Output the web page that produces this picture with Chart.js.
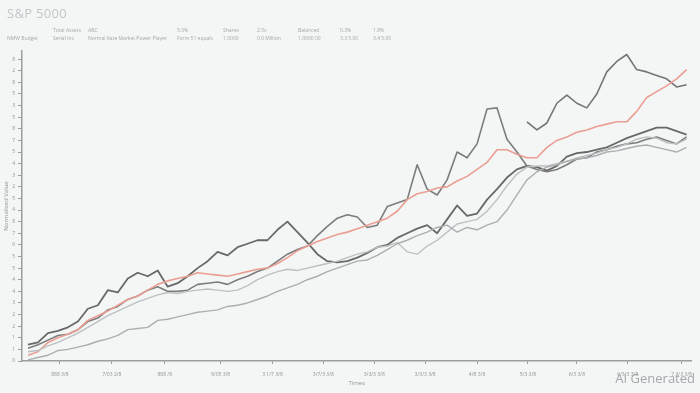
<!DOCTYPE html>
<html>
<head>
<meta charset="utf-8">
<script src="https://cdn.jsdelivr.net/npm/chart.js@4.4.1/dist/chart.umd.min.js"></script>
<style>
  html, body { margin: 0; padding: 0; background: #f4f6f6; }
  #wrap { position: relative; width: 700px; height: 393px; overflow: hidden; font-family: "Open Sans", "DejaVu Sans", sans-serif; }
  #soft { position: absolute; left: 0; top: 0; width: 700px; height: 393px; filter: blur(0.6px); }
  #title { position: absolute; left: 7px; top: 4px; font-size: 13px; color: #c2c6c8; letter-spacing: 0.3px; }
  .hd { position: absolute; font-size: 5px; color: #a3a7a9; white-space: nowrap; }
  #wm { position: absolute; right: 5px; bottom: 6px; font-size: 13px; color: #a3a8ab; font-family: "Open Sans", sans-serif; }
</style>
</head>
<body>
<div id="wrap">
  <div id="soft">
    <canvas id="chart"></canvas>
    <div id="title">S&amp;P 5000</div>
    <div id="header"></div>
  </div>
  <div id="wm">AI Generated</div>
</div>
<script>
// --- Daten ---
const xTickPos = [3.2, 8.4, 13.7, 19.3, 24.5, 29.6, 34.7, 39.8, 45.0, 50.1, 55.0, 60.1, 65.5];
const xTickLabels = ["888 3/8", "7/03 2/8", "888 /8", "9/05 3/8", "3 1/7 3/8", "3/7/3 3/8", "3/3/3 3/8",
                     "3/3/3 3/8", "4/8 3/8", "5/3 3/8", "6/3 3/8", "6/3/3 3/8", "7 3/3 3/8"];
const yTickLabels = ["0", "1", "1", "2", "2", "3", "4", "4", "5", "5", "6", "7", "8", "4",
                     "5", "2", "3", "4", "5", "7", "8", "5", "3", "5", "8", "2", "8"];

const sp500 = [1.4, 1.6, 2.4, 2.6, 2.9, 3.4, 4.5, 4.8, 6.1, 5.9,
               7.1, 7.6, 7.3, 7.8, 6.4, 6.7, 7.3, 8.0, 8.6, 9.4,
               9.1, 9.8, 10.1, 10.4, 10.4, 11.3, 12.0, 11.1, 10.2, 9.2,
               8.6, 8.5, 8.6, 8.9, 9.3, 9.8, 10.0, 10.6, 11.0, 11.4,
               11.7, 11.0, 12.2, 13.4, 12.5, 12.7, 13.9, 14.8, 15.8, 16.5,
               16.8, 16.7, 16.4, 16.8, 17.6, 17.9, 18.0, 18.2, 18.4, 18.8,
               19.2, 19.5, 19.8, 20.1, 20.1, 19.8, 19.5];

const growth = [1.1, 1.4, 1.8, 2.2, 2.3, 2.7, 3.4, 3.7, 4.4, 4.7,
                5.3, 5.6, 6.1, 6.4, 6.0, 6.0, 6.1, 6.6, 6.7, 6.8,
                6.6, 7.0, 7.3, 7.7, 8.0, 8.6, 9.2, 9.6, 9.9, 10.8,
                11.6, 12.3, 12.6, 12.4, 11.5, 11.7, 13.3, 13.6, 13.9, 16.9,
                14.8, 14.3, 15.6, 18.0, 17.5, 18.7, 21.7, 21.8, 19.1, 18.0,
                16.8, 16.5, 16.3, 16.5, 16.9, 17.4, 17.5, 18.0, 18.2, 18.5,
                18.7, 18.8, 19.1, 19.3, 19.0, 18.7, 19.3];

const momentum = [null, null, null, null, null, null, null, null, null, null,
                  null, null, null, null, null, null, null, null, null, null,
                  null, null, null, null, null, null, null, null, null, null,
                  null, null, null, null, null, null, null, null, null, null,
                  null, null, null, null, null, null, null, null, null, null,
                  20.6, 19.9, 20.5, 22.2, 22.9, 22.2, 21.8, 23.0, 24.9, 25.8,
                  26.4, 25.1, 24.9, 24.6, 24.3, 23.6, 23.8];

const benchmark = [0.5, 0.8, 1.6, 2.0, 2.3, 2.7, 3.5, 3.9, 4.3, 4.8,
                   5.3, 5.6, 6.1, 6.6, 6.9, 7.1, 7.3, 7.6, 7.5, 7.4,
                   7.3, 7.5, 7.7, 7.9, 8.0, 8.4, 8.9, 9.5, 9.9, 10.3,
                   10.6, 10.9, 11.1, 11.4, 11.7, 12.0, 12.3, 12.9, 13.9, 14.4,
                   14.6, 14.9, 15.0, 15.5, 15.9, 16.5, 17.1, 18.2, 18.2, 17.8,
                   17.5, 17.5, 18.4, 19.0, 19.3, 19.7, 19.9, 20.2, 20.4, 20.6,
                   20.6, 21.5, 22.7, 23.2, 23.7, 24.3, 25.1];

const value = [0.8, 0.9, 1.3, 1.6, 2.0, 2.4, 2.9, 3.4, 3.9, 4.3,
               4.7, 5.1, 5.4, 5.7, 5.9, 5.8, 6.0, 6.1, 6.2, 6.1,
               6.0, 6.1, 6.5, 7.0, 7.4, 7.7, 7.9, 7.8, 8.0, 8.2,
               8.4, 8.6, 8.9, 9.2, 9.4, 9.8, 9.9, 10.2, 9.4, 9.2,
               9.9, 10.4, 11.1, 11.8, 12.0, 12.2, 12.9, 13.9, 15.1, 16.1,
               16.7, 16.8, 16.8, 17.0, 17.2, 17.5, 17.7, 17.9, 18.2, 18.4,
               18.7, 19.1, 19.3, 19.2, 18.8, 18.7, 19.1];

const bonds = [0.1, 0.3, 0.5, 0.9, 1.0, 1.2, 1.4, 1.7, 1.9, 2.2,
               2.7, 2.8, 2.9, 3.5, 3.6, 3.8, 4.0, 4.2, 4.3, 4.4,
               4.7, 4.8, 5.0, 5.3, 5.6, 6.0, 6.3, 6.6, 7.0, 7.3,
               7.7, 8.0, 8.3, 8.6, 8.7, 9.1, 9.6, 10.1, 10.4, 10.8,
               11.1, 11.5, 11.7, 11.1, 11.5, 11.3, 11.7, 12.0, 13.0, 14.3,
               15.6, 16.3, 16.7, 16.9, 17.2, 17.4, 17.5, 17.7, 18.0, 18.1,
               18.3, 18.5, 18.6, 18.4, 18.2, 18.0, 18.4];

const headerRows = [
  [[53, "Total Assets"], [88, "ABC"], [177, "5.0%"], [223, "Shares"], [257, "2.5x"],
   [298, "Balanced"], [340, "0.3%"], [373, "1.8%"]],
  [[7, "NMW Budget"], [53, "Serial Inc"], [88, "Normal Rate Market Power Player"], [177, "Form 51 equals"],
   [223, "1.0000"], [257, "0.0 Million"], [298, "1.0000 00"], [340, "3.3 5.00"], [373, "3.4 5.00"]]
];

// --- Kopfzeile ---
const header = document.getElementById("header");
headerRows.forEach((row, r) => {
  row.forEach(([x, txt]) => {
    const el = document.createElement("div");
    el.className = "hd";
    el.style.left = x + "px";
    el.style.top = (27 + r * 8) + "px";
    el.textContent = txt;
    header.appendChild(el);
  });
});

const toPoints = arr => arr.map((v, i) => ({ x: i, y: v }));

function line(label, data, color, width) {
  return {
    label: label,
    data: toPoints(data),
    borderColor: color,
    borderWidth: width,
    pointRadius: 0,
    tension: 0,
    spanGaps: false,
    borderJoinStyle: "round",
    fill: false
  };
}

const axisGrey = "#9a9ea0";

new Chart(document.getElementById("chart"), {
  type: "line",
  data: {
    datasets: [
      line("Bonds", bonds, "#abafb1", 1.4),
      line("Value", value, "#bcc0c2", 1.4),
      line("Benchmark", benchmark, "#eb9e93", 1.6),
      line("Growth", growth, "#7c7c7c", 1.6),
      line("S&P 500", sp500, "#686868", 1.8),
      line("Momentum", momentum, "#747474", 1.6)
    ]
  },
  options: {
    responsive: true,
    maintainAspectRatio: false,
    animation: false,
    layout: { padding: { top: 51, right: 7, left: 0, bottom: 0 } },
    plugins: { legend: { display: false }, tooltip: { enabled: false } },
    scales: {
      x: {
        type: "linear",
        min: -0.6,
        max: 66.5,
        afterBuildTicks: s => { s.ticks = xTickPos.map(v => ({ value: v })); },
        afterFit: s => { s.height = 32; },
        ticks: {
          autoSkip: false,
          maxRotation: 0,
          padding: 8,
          color: "#8f9395",
          font: { size: 5, family: "Open Sans" },
          callback: (v, i) => xTickLabels[i]
        },
        grid: { drawOnChartArea: false, drawTicks: true, tickLength: 3, color: axisGrey },
        border: { display: true, color: axisGrey, width: 1.5 },
        title: { display: true, text: "Times", color: "#8f9395", font: { size: 6, family: "Open Sans" }, padding: { top: 0, bottom: 6 } }
      },
      y: {
        min: 0,
        max: 26.7,
        afterBuildTicks: s => { s.ticks = yTickLabels.map((t, i) => ({ value: i })); },
        afterFit: s => { s.width = 22; },
        ticks: {
          autoSkip: false,
          padding: 3,
          color: "#8f9395",
          font: { size: 5, family: "Open Sans" },
          callback: (v, i) => yTickLabels[i]
        },
        grid: { drawOnChartArea: false, drawTicks: true, tickLength: 4, color: axisGrey },
        border: { display: true, color: axisGrey, width: 1.5 },
        title: { display: true, text: "Normalized Value", color: "#8f9395", font: { size: 6, family: "Open Sans" }, padding: { top: 3, bottom: 0 } }
      }
    }
  }
});
</script>
</body>
</html>
